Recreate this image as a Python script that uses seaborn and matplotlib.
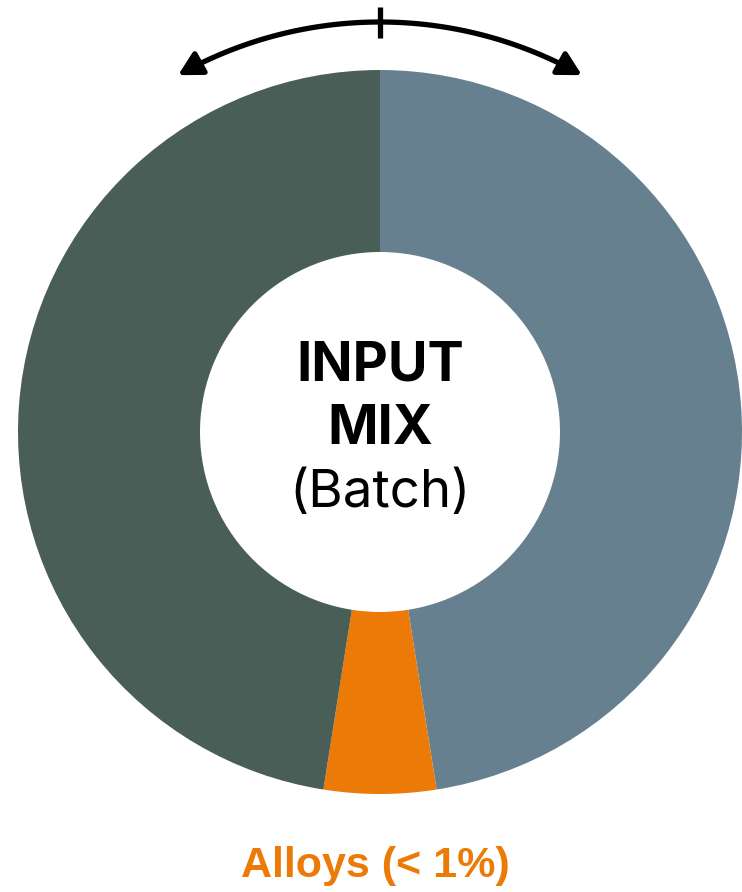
import numpy as np
import matplotlib.pyplot as plt
import seaborn as sns
from matplotlib.patches import FancyArrowPatch
from matplotlib.path import Path

# data (clockwise from top)
labels = ["Right", "Alloys", "Left"]
shares = [47.5, 5.0, 47.5]
colors = ["#66808f", "#ec7a06", "#4a5e58"]
center_lines = ["INPUT", "MIX", "(Batch)"]
alloy_label = "Alloys (< 1%)"

sns.set_theme(style="white")
plt.rcParams["font.family"] = ["Inter", "DejaVu Sans"]

W, H = 742, 892
fig = plt.figure(figsize=(W / 100, H / 100), dpi=100)
ax = fig.add_axes([0, 0, 1, 1])

cx, cy = 380, H - 432
R, r_in = 362, 180

ax.pie(shares, colors=colors, startangle=90, counterclock=False,
       center=(cx, cy), radius=R, frame=True,
       wedgeprops=dict(width=R - r_in, linewidth=0))
ax.set_xlim(0, W)
ax.set_ylim(0, H)
ax.set_aspect("equal")
ax.axis("off")

# center text
ax.text(cx, cy + 66, center_lines[0], ha="center", va="center",
        fontsize=39, fontweight="bold", color="black")
ax.text(cx, cy + 2, center_lines[1], ha="center", va="center",
        fontsize=39, fontweight="bold", color="black")
ax.text(cx, cy - 62, center_lines[2], ha="center", va="center",
        fontsize=38, color="black")

# alloys label
ax.text(cx - 5, H - 866, alloy_label, ha="center", va="center",
        fontsize=31, fontweight="bold", color=colors[1],
        family=["Liberation Sans", "DejaVu Sans"])

# arc with arrows above the donut
R_arc = 410
th = np.radians(np.linspace(90 + 29.5, 90 - 29.5, 60))
verts = np.column_stack([cx + R_arc * np.cos(th), cy + R_arc * np.sin(th)])
arc = FancyArrowPatch(path=Path(verts), arrowstyle="<|-|>,head_length=0.7,head_width=0.38",
                      mutation_scale=20, color="black", linewidth=3.8)
ax.add_patch(arc)
ax.plot([cx, cx], [H - 7, H - 38], color="black", linewidth=3.8, solid_capstyle="butt")

fig.savefig("out.png", dpi=100)
